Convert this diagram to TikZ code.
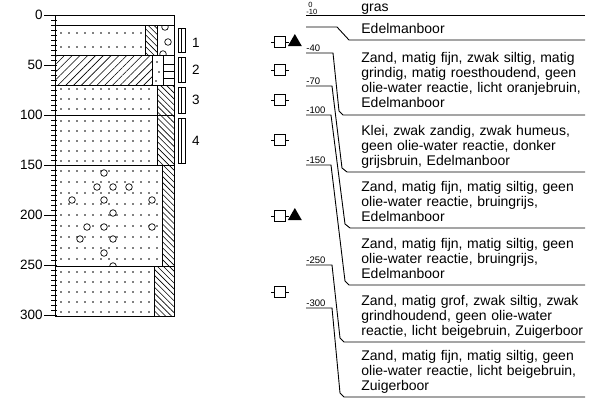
\documentclass[tikz,border=0pt]{standalone}
\usepackage{fontspec}
\setmainfont{Liberation Sans}
\usetikzlibrary{positioning,shapes.geometric,patterns.meta}

\tikzset{
  hatchbk/.style={pattern={Lines[angle=-45,distance=4.2pt,line width=0.6pt]}},
  hatchfw/.style={pattern={Lines[angle=45,distance=5.5pt,line width=0.6pt]}},
  pebble/.style={draw,fill=white,line width=0.7pt},
  sampbox/.style={draw,line width=1pt,minimum width=10.5pt,minimum height=10.5pt,inner sep=0pt,
    append after command={(\tikzlastnode.west) edge[line width=1pt] ++(-3pt,0)
      (\tikzlastnode.east) edge[line width=1pt] ++(3pt,0)}},
  smell/.style={regular polygon,regular polygon sides=3,fill,inner sep=0pt,minimum size=16pt},
  axlab/.style={font=\fontsize{13.5}{14}\selectfont,anchor=east,inner sep=0pt},
  numlab/.style={font=\fontsize{13.5}{14}\selectfont,inner sep=0pt},
  lvl/.style={font=\fontsize{9.5}{9.5}\selectfont,anchor=south west,inner xsep=0pt,inner ysep=0.8pt},
  toplvl/.style={lvl,font=\fontsize{7.5}{7.5}\selectfont,inner ysep=0.2pt},
  desc/.style={font=\fontsize{14}{15}\selectfont,text width=235pt,align=left,anchor=base west,inner sep=0pt},
  leader/.style={line width=0.9pt},
}

\begin{document}
\begin{tikzpicture}[x=1pt,y=-1pt,line width=0.8pt]
  \useasboundingbox (0,0) rectangle (601,400);

  % hatching
  \path[hatchbk] (145,25) rectangle (157,55);
  \path[hatchfw] (55,55) rectangle (152,85);
  \path[hatchbk] (157,85) rectangle (174,165);
  \path[hatchbk] (162,165) rectangle (174,266);
  \path[hatchbk] (154,266) rectangle (174,316);

  % sand dots
  \foreach \yy in {33,47} \foreach \xx in {61,69,...,141} \fill (\xx,\yy) circle (0.85pt);
  \foreach \yy in {89,99,109,121,131,141,151,161} \foreach \xx in {61,69,...,153} \fill (\xx,\yy) circle (0.85pt);
  \foreach \yy in {171,182,193,204,215,226,237,248,259} \foreach \xx in {61,69,...,157} \fill (\xx,\yy) circle (0.85pt);
  \foreach \yy in {272,282,292,302,312} \foreach \xx in {61,69,...,149} \fill (\xx,\yy) circle (0.85pt);
  \foreach \xx/\yy in {157/62,159/72,156/81} \fill (\xx,\yy) circle (0.85pt);
  \foreach \yy in {64,71,78} \draw (163,\yy) -- (174,\yy);

  % gravel
  \begin{scope}
    \clip (157,25) rectangle (174,55);
    \foreach \xx/\yy in {165/27,168/42,163/54} \draw[pebble] (\xx,\yy) circle (3.3pt);
  \end{scope}
  \begin{scope}
    \clip (55,165) rectangle (162,266);
    \foreach \xx/\yy in {104/173,97/187,113/187,129/187,72/200,104/200,152/200,113/213,
      87/227,104/227,152/227,80/239,113/239,104/253,113/266}
      \draw[pebble] (\xx,\yy) circle (3.3pt);
  \end{scope}

  % column outline
  \draw (55,15) rectangle (174,316);
  \foreach \yy in {25,55,85,115,165,266} \draw (55,\yy) -- (174,\yy);
  \draw (145,25) -- (145,55) (157,25) -- (157,55)
        (152,55) -- (152,85) (163,55) -- (163,85)
        (157,85) -- (157,165) (162,165) -- (162,266) (154,266) -- (154,316);

  % depth axis
  \foreach \d in {0,5,...,300} \draw (51,15+\d) -- (57,15+\d);
  \foreach \d in {0,50,...,300} {
    \draw (44,15+\d) -- (55,15+\d);
    \node[axlab] (a\d) at (43,15+\d) {\d};
  }

  % samples
  \foreach \n/\ya/\yb/\yl in {1/28/52/43,2/57/82/70,3/87/113/100,4/118/163/141} {
    \draw (178,\ya) rectangle (185,\yb) (181.5,\ya) -- (181.5,\yb);
    \node[numlab] (n\n) at (196,\yl) {\n};
  }
  \node[sampbox] (m1) at (280,42) {};
  \node[smell,right=4pt of m1] (t1) {};
  \node[sampbox] (m2) at (280,70) {};
  \node[sampbox] (m3) at (280,100) {};
  \node[sampbox] (m4) at (280,140) {};
  \node[sampbox] (m5) at (280,216) {};
  \node[smell,right=4pt of m5] (t5) {};
  \node[sampbox] (m6) at (280,292) {};

  % levels and leaders
  \coordinate (u0) at (306,15);
  \coordinate (u10) at (306,27);
  \coordinate (u40) at (306,53);
  \coordinate (u70) at (306,86);
  \coordinate (u100) at (306,115);
  \coordinate (u150) at (306,165);
  \coordinate (u250) at (306,265);
  \coordinate (u300) at (306,308);
  \node[toplvl] (lv0) at (308,8.6) {0};
  \node[toplvl] (lv10) at (u0) {-10};
  \node[lvl] (lv40) at (u40) {-40};
  \node[lvl] (lv70) at (u70) {-70};
  \node[lvl] (lv100) at (u100) {-100};
  \node[lvl] (lv150) at (u150) {-150};
  \node[lvl] (lv250) at (u250) {-250};
  \node[lvl] (lv300) at (u300) {-300};

  \draw[leader] (u0) -- (585,15);
  \draw[leader] (u10) -- ++(31,0) -- (349,40) -- (585,40);
  \draw[leader] (u40) -- ++(27,0) -- (339,111) -- (343,115) -- (585,115);
  \draw[leader] (u70) -- ++(26,0) -- (342,168) -- (347,172) -- (585,172);
  \draw[leader] (u100) -- ++(25,0) -- (345,224) -- (350,228) -- (585,228);
  \draw[leader] (u150) -- ++(25,0) -- (345,281) -- (349,285) -- (585,285);
  \draw[leader] (u250) -- ++(26,0) -- (340,338) -- (344,342) -- (585,342);
  \draw[leader] (u300) -- ++(26,0) -- (340,393) -- (344,397) -- (585,397);

  % descriptions
  \node[desc] (gras) at (361,11) {gras};
  \node[desc] (edel) at (361,33) {Edelmanboor};
  \node[desc] (zand1) at (361,62) {Zand, matig fijn, zwak siltig, matig\\grindig, matig roesthoudend, geen\\olie-water reactie, licht oranjebruin,\\Edelmanboor};
  \node[desc] (klei) at (361,135) {Klei, zwak zandig, zwak humeus,\\geen olie-water reactie, donker\\grijsbruin, Edelmanboor};
  \node[desc] (zand2) at (361,191) {Zand, matig fijn, matig siltig, geen\\olie-water reactie, bruingrijs,\\Edelmanboor};
  \node[desc] (zand3) at (361,248) {Zand, matig fijn, matig siltig, geen\\olie-water reactie, bruingrijs,\\Edelmanboor};
  \node[desc] (zandgrof) at (361,305) {Zand, matig grof, zwak siltig, zwak\\grindhoudend, geen olie-water\\reactie, licht beigebruin, Zuigerboor};
  \node[desc] (zand4) at (361,360) {Zand, matig fijn, matig siltig, geen\\olie-water reactie, licht beigebruin,\\Zuigerboor};
\end{tikzpicture}
\end{document}
